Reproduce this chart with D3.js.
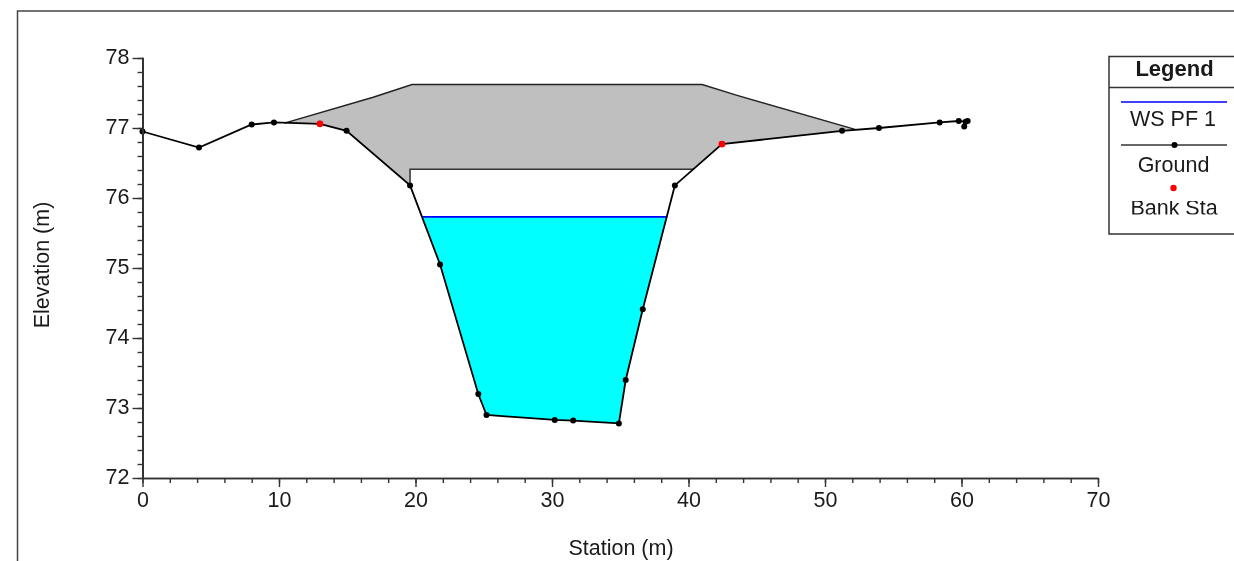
<!DOCTYPE html>
<html>
<head>
<meta charset="utf-8">
<script src="https://cdn.jsdelivr.net/npm/d3@7"></script>
<style>
html, body { margin: 0; padding: 0; background: #fff; overflow: hidden; }
svg { display: block; filter: blur(0.35px); }
text { font-family: "Liberation Sans", Arial, sans-serif; fill: #1a1a1a; }
</style>
</head>
<body>
<svg id="chart"></svg>
<script>
// ground profile
var groundStation = [0, 4.14, 8.0, 9.63, 13.0, 14.95, 19.6, 21.8, 24.6, 25.2, 30.2, 31.55, 34.9, 35.4, 36.65, 39.0, 42.45, 51.25, 53.95, 58.4, 59.8, 60.3, 60.2, 60.45];
var groundElev = [76.95, 76.72, 77.05, 77.08, 77.06, 76.96, 76.18, 75.05, 73.2, 72.9, 72.83, 72.82, 72.78, 73.4, 74.41, 76.18, 76.77, 76.96, 77.0, 77.08, 77.1, 77.09, 77.02, 77.1];

// bank stations
var bankStation = [13.0, 42.45];
var bankElev = [77.06, 76.77];

// road deck outline, upstream to downstream
var deckStation = [10.4, 16.9, 19.75, 41.0, 43.5, 52.2, 51.25, 42.45, 40.4, 19.6, 19.6, 14.95, 13.0];
var deckElev = [77.07, 77.44, 77.62, 77.62, 77.47, 76.98, 76.96, 76.77, 76.41, 76.41, 76.18, 76.96, 77.06];

// water surface
var wsStation = [20.5, 38.45];
var wsElev = 75.73;
var wsBankStation = [21.8, 24.6, 25.2, 30.2, 31.55, 34.9, 35.4, 36.65];
var wsBankElev = [75.05, 73.2, 72.9, 72.83, 72.82, 72.78, 73.4, 74.41];

var xTicks = [0, 10, 20, 30, 40, 50, 60, 70];
var yTicks = [72, 73, 74, 75, 76, 77, 78];
var legendLabels = ["WS PF 1", "Ground", "Bank Sta"];

var settings = { width: 1234, height: 561, font: "21.5px" };

var svg = d3.select("#chart")
    .attr("width", settings.width)
    .attr("height", settings.height);

var x = d3.scaleLinear().domain([0, 70]).range([142.5, 1098]);
var y = d3.scaleLinear().domain([72, 78]).range([478, 58]);

var line = d3.line()
    .x(function (d) { return x(d[0]); })
    .y(function (d) { return y(d[1]); });

// outer frame runs off the page on the right and bottom
svg.append("path")
    .attr("d", d3.line()([[17.5, settings.height + 2], [17.5, 11], [settings.width + 2, 11]]))
    .attr("fill", "none")
    .attr("stroke", "#444")
    .attr("stroke-width", 1.5);

// filled areas
var deckPts = d3.zip(deckStation, deckElev);
svg.append("path")
    .attr("d", line(deckPts) + "Z")
    .attr("fill", "#bfbfbf")
    .attr("stroke", "none");

var waterPts = [[wsStation[0], wsElev]]
    .concat(d3.zip(wsBankStation, wsBankElev))
    .concat([[wsStation[1], wsElev]]);
svg.append("path")
    .attr("d", line(waterPts) + "Z")
    .attr("fill", "#00ffff");

// deck outline
svg.append("path")
    .attr("d", line(deckPts.slice(0, 6)))
    .attr("fill", "none")
    .attr("stroke", "#222")
    .attr("stroke-width", 1.5);
svg.append("path")
    .attr("d", line(deckPts.slice(8, 11)))
    .attr("fill", "none")
    .attr("stroke", "#333")
    .attr("stroke-width", 1.5);

// water surface line
svg.append("line")
    .attr("x1", x(wsStation[0]))
    .attr("x2", x(wsStation[1]))
    .attr("y1", y(wsElev))
    .attr("y2", y(wsElev))
    .attr("stroke", "#0000ff")
    .attr("stroke-width", 1.6);

// ground
var groundPts = d3.zip(groundStation, groundElev);
svg.append("path")
    .attr("d", line(groundPts))
    .attr("fill", "none")
    .attr("stroke", "#000")
    .attr("stroke-width", 1.8);

svg.selectAll("circle.ground")
    .data(groundPts)
    .enter()
    .append("circle")
    .attr("class", "ground")
    .attr("cx", function (d) { return x(d[0]); })
    .attr("cy", function (d) { return y(d[1]); })
    .attr("r", 3)
    .attr("fill", "#000");

svg.selectAll("circle.bank")
    .data(d3.zip(bankStation, bankElev))
    .enter()
    .append("circle")
    .attr("class", "bank")
    .attr("cx", function (d) { return x(d[0]); })
    .attr("cy", function (d) { return y(d[1]); })
    .attr("r", 3.4)
    .attr("fill", "#ff0000");

// axes: major ticks plus minor ones at a fifth of a major step
function styleAxis(g) {
    g.select(".domain").attr("stroke", "#333").attr("stroke-width", 1.6);
    g.selectAll("line").attr("stroke", "#333").attr("stroke-width", 1.4);
    g.selectAll("text").style("font-size", settings.font).attr("fill", "#1a1a1a");
}

var xMinor = d3.range(0, 70.001, 2);
var yMinor = d3.range(72, 78.001, 0.2);

svg.append("g")
    .attr("transform", "translate(0,478)")
    .call(d3.axisBottom(x).tickValues(xMinor).tickSize(5).tickSizeOuter(0).tickFormat(""))
    .call(styleAxis);
svg.append("g")
    .attr("transform", "translate(0,478)")
    .call(d3.axisBottom(x).tickValues(xTicks).tickSize(9).tickSizeOuter(0).tickPadding(5).tickFormat(d3.format("d")))
    .call(styleAxis);

svg.append("g")
    .attr("transform", "translate(142.5,0)")
    .call(d3.axisLeft(y).tickValues(yMinor).tickSize(5).tickSizeOuter(0).tickFormat(""))
    .call(styleAxis);
svg.append("g")
    .attr("transform", "translate(142.5,-1)")
    .call(d3.axisLeft(y).tickValues(yTicks).tickSize(0).tickSizeOuter(0).tickPadding(13).tickFormat(d3.format("d")))
    .call(styleAxis);
svg.append("g")
    .attr("transform", "translate(142.5,0)")
    .call(d3.axisLeft(y).tickValues(yTicks).tickSize(10).tickSizeOuter(0).tickFormat(""))
    .call(styleAxis);

svg.append("text")
    .attr("x", 621)
    .attr("y", 555)
    .attr("text-anchor", "middle")
    .style("font-size", settings.font)
    .text("Station (m)");

svg.append("text")
    .attr("transform", "translate(49,265) rotate(-90)")
    .attr("text-anchor", "middle")
    .style("font-size", settings.font)
    .text("Elevation (m)");

// legend box, cut by the right page edge
var legend = svg.append("g");
legend.append("rect")
    .attr("x", 1109)
    .attr("y", 56.5)
    .attr("width", 140)
    .attr("height", 177.5)
    .attr("fill", "#fff")
    .attr("stroke", "#333")
    .attr("stroke-width", 1.5);
legend.append("line")
    .attr("x1", 1109).attr("x2", 1234)
    .attr("y1", 87.5).attr("y2", 87.5)
    .attr("stroke", "#333")
    .attr("stroke-width", 1.5);
legend.append("text")
    .attr("x", 1174.5).attr("y", 76)
    .attr("text-anchor", "middle")
    .style("font-size", "22px")
    .style("font-weight", "bold")
    .text("Legend");

legend.append("line")
    .attr("x1", 1121).attr("x2", 1227)
    .attr("y1", 102).attr("y2", 102)
    .attr("stroke", "#0000ff")
    .attr("stroke-width", 1.5);
legend.append("text")
    .attr("x", 1173).attr("y", 126)
    .attr("text-anchor", "middle")
    .style("font-size", settings.font)
    .text(legendLabels[0]);

legend.append("line")
    .attr("x1", 1121).attr("x2", 1227)
    .attr("y1", 145).attr("y2", 145)
    .attr("stroke", "#333")
    .attr("stroke-width", 1.4);
legend.append("circle")
    .attr("cx", 1174.5).attr("cy", 145).attr("r", 3).attr("fill", "#000");
legend.append("text")
    .attr("x", 1173.5).attr("y", 172)
    .attr("text-anchor", "middle")
    .style("font-size", settings.font)
    .text(legendLabels[1]);

legend.append("circle")
    .attr("cx", 1173.5).attr("cy", 188).attr("r", 3.2).attr("fill", "#ff0000");

svg.append("clipPath")
    .attr("id", "bank-clip")
    .append("rect")
    .attr("x", 1110).attr("y", 201).attr("width", 124).attr("height", 13.5);
legend.append("text")
    .attr("x", 1174).attr("y", 215)
    .attr("text-anchor", "middle")
    .attr("clip-path", "url(#bank-clip)")
    .style("font-size", settings.font)
    .text(legendLabels[2]);
</script>
</body>
</html>
